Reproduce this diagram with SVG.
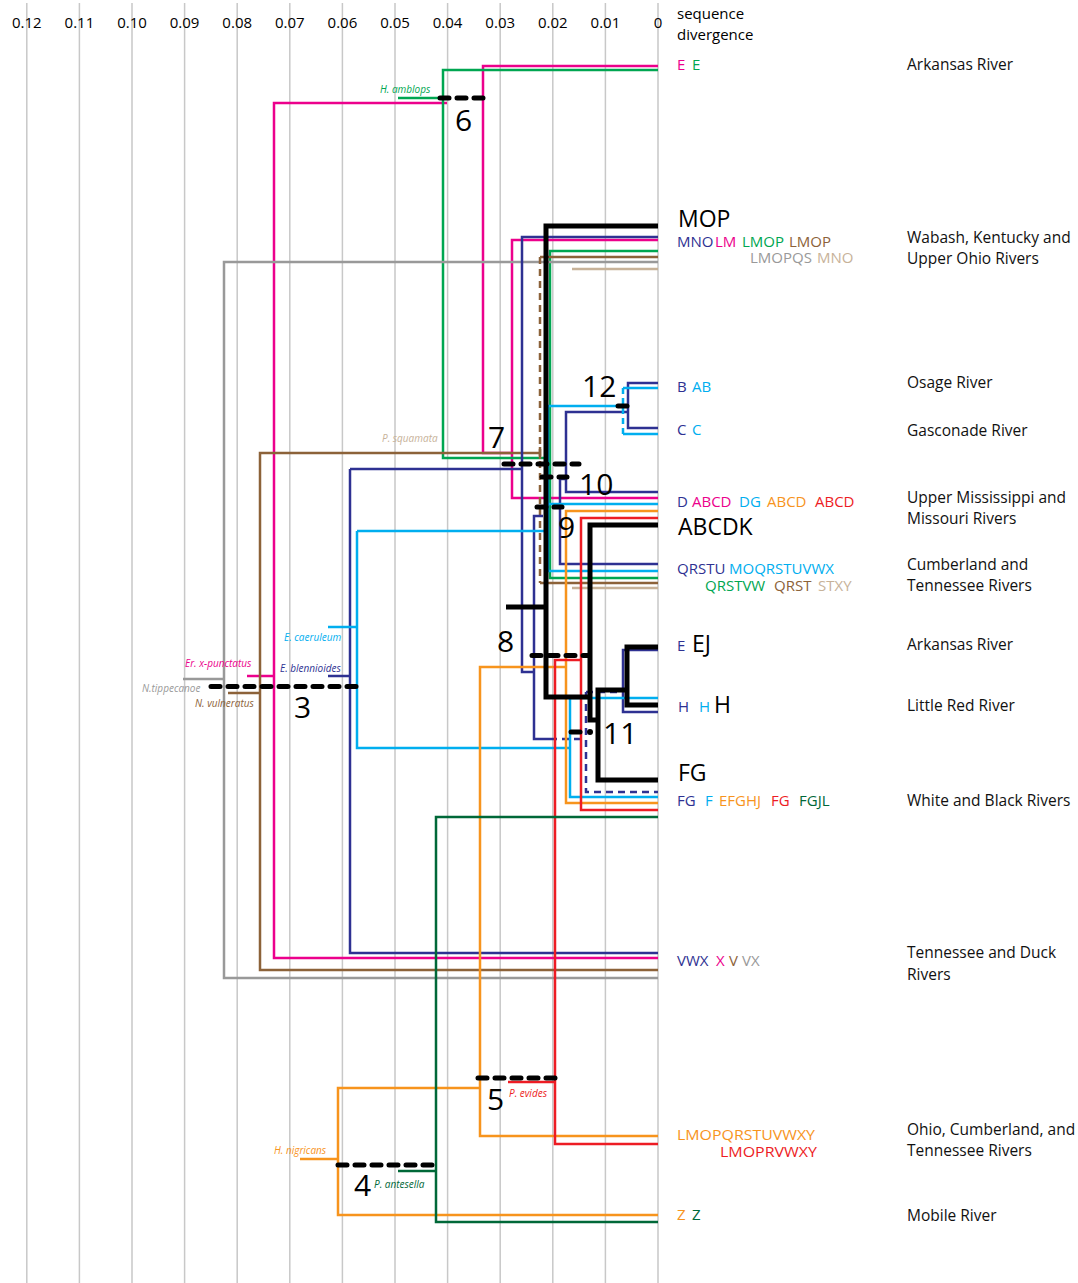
<svg xmlns="http://www.w3.org/2000/svg" width="1078" height="1283" viewBox="0 0 1078 1283">
<style>
text{font-family:"Open Sans","Noto Sans",sans-serif;}
.grid{stroke:#c8c8c8;stroke-width:1.5;fill:none}
.ax{font-size:15px;fill:#000;text-anchor:middle}
.l{fill:none;stroke-width:2.5;stroke-linejoin:miter}
.bk{fill:none;stroke:#000;stroke-width:5;stroke-linejoin:miter}
.dsh{fill:none;stroke:#000;stroke-width:5;stroke-linecap:round;stroke-dasharray:9 8}
.mag{stroke:#ec008c}.grn{stroke:#00a651}.blu{stroke:#2e3192}.cyn{stroke:#00aeef}.brn{stroke:#8c6239}.gry{stroke:#999999}.tan{stroke:#c7b299}.org{stroke:#f7941d}.red{stroke:#ed1c24}.dgr{stroke:#006838}
.tip{font-size:15px}
.big{font-size:23px;fill:#000}
.riv{font-size:15.5px;fill:#111}
.sp{font-size:10px;font-style:italic}
.num{font-size:30px;fill:#000}
.cm{fill:#ec008c}.cg{fill:#00a651}.cb{fill:#2e3192}.cc{fill:#00aeef}.cn{fill:#8c6239}.cy{fill:#999999}.ct{fill:#c7b299}.co{fill:#f7941d}.cr{fill:#ed1c24}.cd{fill:#006838}
</style>
<rect width="1078" height="1283" fill="#fff"/>
<g id="axis">
<path class="grid" d="M26.8,3V1283M79.4,3V1283M132,3V1283M184.6,3V1283M237.2,3V1283M289.8,3V1283M342.4,3V1283M395,3V1283M447.6,3V1283M500.2,3V1283M552.8,3V1283M605.4,3V1283M658,3V1283"/>
<text class="ax" x="26.8" y="28">0.12</text>
<text class="ax" x="79.4" y="28">0.11</text>
<text class="ax" x="132" y="28">0.10</text>
<text class="ax" x="184.6" y="28">0.09</text>
<text class="ax" x="237.2" y="28">0.08</text>
<text class="ax" x="289.8" y="28">0.07</text>
<text class="ax" x="342.4" y="28">0.06</text>
<text class="ax" x="395" y="28">0.05</text>
<text class="ax" x="447.6" y="28">0.04</text>
<text class="ax" x="500.2" y="28">0.03</text>
<text class="ax" x="552.8" y="28">0.02</text>
<text class="ax" x="605.4" y="28">0.01</text>
<text class="ax" x="658" y="28">0</text>
<text x="677" y="19" style="font-size:15px">sequence</text>
<text x="677" y="40" style="font-size:15px">divergence</text>
</g>
<g id="connectors">
<path class="l mag" d="M658,66H483V453H512M658,240H512V498H658M447,103H274V958H658M247,676H274"/>
<path class="l grn" d="M658,70H443V458H550M658,251H550V578H658M398,98H443"/>
<path class="l gry" d="M658,262H224V978H658M183,679H224"/>
<path class="l brn" d="M658,257H540M540,583H658M540,453H260V970H658M540,447V459M228,693H260"/>
<path class="l brn" stroke-dasharray="7 5" d="M540,257V583"/>
<path class="l tan" d="M572,269H658M572,588H658"/>
<path class="l blu" d="M658,237H522V672H534M350,469H522M658,953H350V469M328,676H350M543,516H534V739H550M658,650H623V712H658M658,383H628V428H658M628,412H566V492H658M566,479H560V564H658"/>
<path class="l blu" stroke-dasharray="7 5" d="M550,739H586M586,692V792H658M586,692H623"/>
<path class="l cyn" d="M548,406H623M658,388H623M623,434H658M548,406V571H658M548,504H658M357,531H548M328,627H357M357,531V748H570M658,698H570V797H658"/>
<path class="l cyn" stroke-dasharray="6 4" d="M623,388V434"/>
<path class="l org" d="M658,511H566V803H658M566,667H480V1136H658M480,1088H338V1215H658M300,1159H338"/>
<path class="l red" d="M658,518H581V810H658M581,660H555V1144H658M508,1082H555"/>
<path class="l dgr" d="M658,817H436V1222H658M398,1171H436"/>
<path class="bk" d="M658,226H546V697H590M506,607H546M658,525H590V720H598M658,647H627V705H658M627,690H598V780H658"/>
</g>
<g id="node-events">
<path class="dsh" d="M440,98H486"/>
<path class="dsh" d="M504,464H579"/>
<path class="dsh" d="M542,477H567"/>
<path class="dsh" d="M537,507H562"/>
<path class="dsh" d="M618,406H627"/>
<path class="dsh" d="M532,655.5H589"/>
<path class="dsh" d="M571,732H582"/>
<circle cx="590" cy="732" r="3" fill="#000"/>
<path class="dsh" d="M211,686.5H357"/>
<path class="dsh" d="M338,1165H435"/>
<path class="dsh" d="M478,1078H557"/>
<text class="num" x="455" y="131">6</text>
<text class="num" x="488" y="448">7</text>
<text class="num" x="582" y="397">12</text>
<text class="num" x="579" y="495">10</text>
<text class="num" x="558" y="538">9</text>
<text class="num" x="497" y="652">8</text>
<text class="num" x="603" y="744">11</text>
<text class="num" x="294" y="718">3</text>
<text class="num" x="354" y="1196">4</text>
<text class="num" x="487" y="1110">5</text>
</g>
<g id="species">
<text class="sp cg" x="380" y="93">H. amblops</text>
<text class="sp ct" x="382" y="442">P. squamata</text>
<text class="sp cc" x="284" y="641">E. caeruleum</text>
<text class="sp cm" x="185" y="667">Er. x-punctatus</text>
<text class="sp cb" x="280" y="672">E. blennioides</text>
<text class="sp cy" x="142" y="692">N.tippecanoe</text>
<text class="sp cn" x="195" y="707">N. vulneratus</text>
<text class="sp co" x="274" y="1154">H. nigricans</text>
<text class="sp cd" x="374" y="1188">P. antesella</text>
<text class="sp cr" x="509" y="1097">P. evides</text>
</g>
<g id="tip-arkansas1">
<text class="tip" y="70"><tspan class="cm" x="677">E</tspan><tspan class="cg" x="692">E</tspan></text>
<text class="riv" x="907" y="70">Arkansas River</text>
</g>
<g id="tip-ohio">
<text class="big" x="678" y="227">MOP</text>
<text class="tip" y="247"><tspan class="cb" x="677">MNO</tspan><tspan class="cm" x="715">LM</tspan><tspan class="cg" x="742">LMOP</tspan><tspan class="cn" x="789">LMOP</tspan></text>
<text class="tip" y="263"><tspan class="cy" x="750">LMOPQS</tspan><tspan class="ct" x="817">MNO</tspan></text>
<text class="riv" x="907" y="243">Wabash, Kentucky and</text>
<text class="riv" x="907" y="264">Upper Ohio Rivers</text>
</g>
<g id="tip-osage">
<text class="tip" y="392"><tspan class="cb" x="677">B</tspan><tspan class="cc" x="692">AB</tspan></text>
<text class="riv" x="907" y="388">Osage River</text>
</g>
<g id="tip-gasconade">
<text class="tip" y="435"><tspan class="cb" x="677">C</tspan><tspan class="cc" x="692">C</tspan></text>
<text class="riv" x="907" y="436">Gasconade River</text>
</g>
<g id="tip-mississippi">
<text class="tip" y="507"><tspan class="cb" x="677">D</tspan><tspan class="cm" x="692">ABCD</tspan><tspan class="cc" x="739">DG</tspan><tspan class="co" x="767">ABCD</tspan><tspan class="cr" x="815">ABCD</tspan></text>
<text class="big" x="678" y="535">ABCDK</text>
<text class="riv" x="907" y="503">Upper Mississippi and</text>
<text class="riv" x="907" y="524">Missouri Rivers</text>
</g>
<g id="tip-cumberland">
<text class="tip" y="574"><tspan class="cb" x="677">QRSTU</tspan><tspan class="cc" x="729">MOQRSTUVWX</tspan></text>
<text class="tip" y="591"><tspan class="cg" x="705">QRSTVW</tspan><tspan class="cn" x="774">QRST</tspan><tspan class="ct" x="818">STXY</tspan></text>
<text class="riv" x="907" y="570">Cumberland and</text>
<text class="riv" x="907" y="591">Tennessee Rivers</text>
</g>
<g id="tip-arkansas2">
<text class="tip cb" x="677" y="651">E</text>
<text class="big" x="692" y="652">EJ</text>
<text class="riv" x="907" y="650">Arkansas River</text>
</g>
<g id="tip-littlered">
<text class="tip cb" x="678" y="712">H</text>
<text class="tip cc" x="699" y="712">H</text>
<text class="big" x="714" y="713">H</text>
<text class="riv" x="907" y="711">Little Red River</text>
</g>
<g id="tip-white">
<text class="big" x="678" y="781">FG</text>
<text class="tip" y="806"><tspan class="cb" x="677">FG</tspan><tspan class="cc" x="705">F</tspan><tspan class="co" x="719">EFGHJ</tspan><tspan class="cr" x="771">FG</tspan><tspan class="cd" x="799">FGJL</tspan></text>
<text class="riv" x="907" y="806">White and Black Rivers</text>
</g>
<g id="tip-tennessee">
<text class="tip" y="966"><tspan class="cb" x="677">VWX</tspan><tspan class="cm" x="716">X</tspan><tspan class="cn" x="729">V</tspan><tspan class="cy" x="742">VX</tspan></text>
<text class="riv" x="907" y="958">Tennessee and Duck</text>
<text class="riv" x="907" y="980">Rivers</text>
</g>
<g id="tip-ohiocumb">
<text class="tip co" x="677" y="1140" textLength="138" lengthAdjust="spacingAndGlyphs">LMOPQRSTUVWXY</text>
<text class="tip cr" x="720" y="1157" textLength="97" lengthAdjust="spacingAndGlyphs">LMOPRVWXY</text>
<text class="riv" x="907" y="1135">Ohio, Cumberland, and</text>
<text class="riv" x="907" y="1156">Tennessee Rivers</text>
</g>
<g id="tip-mobile">
<text class="tip" y="1220"><tspan class="co" x="677">Z</tspan><tspan class="cd" x="692">Z</tspan></text>
<text class="riv" x="907" y="1221">Mobile River</text>
</g>
</svg>
